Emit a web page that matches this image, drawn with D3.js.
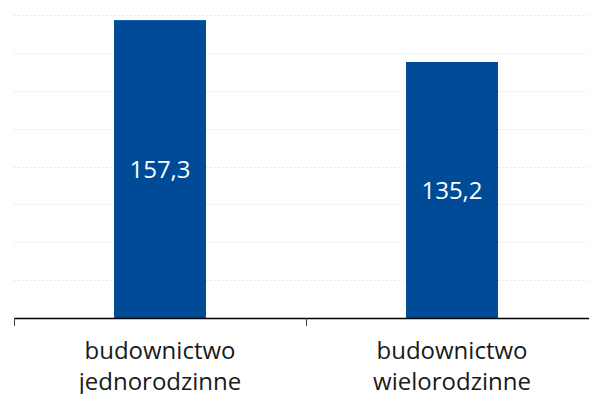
<!DOCTYPE html>
<html>
<head>
<meta charset="utf-8">
<script src="https://cdn.jsdelivr.net/npm/d3@7"></script>
<style>
  html, body { margin: 0; padding: 0; background: #ffffff; }
  svg { display: block; }
</style>
</head>
<body>
<svg id="chart" width="589" height="394"></svg>
<script>
// Housing construction categories and their values
const categories = [["budownictwo", "jednorodzinne"], ["budownictwo", "wielorodzinne"]];
const categoryKeys = ["jednorodzinne", "wielorodzinne"];
const values = [157.3, 135.2];
const valueLabels = ["157,3", "135,2"];
const gridTicks = [20, 40, 60, 80, 100, 120, 140, 160];

const svg = d3.select("#chart");
const plotLeft = 14, plotRight = 598, plotTop = 15, plotBottom = 318;
const font = "'Open Sans', sans-serif";

const x = d3.scaleBand()
  .domain(categoryKeys)
  .range([plotLeft, plotRight])
  .paddingInner(0.685)
  .paddingOuter(0.3425);

const y = d3.scaleLinear().domain([0, 160]).range([plotBottom, plotTop]);

// faint dotted gridlines
svg.append("g")
  .selectAll("line")
  .data(gridTicks)
  .join("line")
  .attr("x1", plotLeft)
  .attr("x2", 589)
  .attr("y1", d => Math.round(y(d)) + 0.5)
  .attr("y2", d => Math.round(y(d)) + 0.5)
  .attr("stroke", "#ebebeb")
  .attr("stroke-width", 1)
  .attr("stroke-dasharray", "2,2");

// bars
svg.append("g")
  .selectAll("rect")
  .data(values)
  .join("rect")
  .attr("x", (d, i) => x(categoryKeys[i]))
  .attr("y", d => y(d))
  .attr("width", x.bandwidth())
  .attr("height", d => y(0) - y(d))
  .attr("fill", "#004b98");

// value labels centred inside the bars
svg.append("g")
  .selectAll("text")
  .data(values)
  .join("text")
  .attr("x", (d, i) => x(categoryKeys[i]) + x.bandwidth() / 2)
  .attr("y", d => (y(d) + y(0)) / 2)
  .attr("dy", "0.36em")
  .attr("text-anchor", "middle")
  .attr("fill", "#ffffff")
  .style("font-family", font)
  .style("font-size", "24px")
  .text((d, i) => valueLabels[i]);

// category axis: baseline plus ticks at the band boundaries
const boundaries = [plotLeft, plotLeft + x.step(), plotRight];
const axis = svg.append("g");
axis.append("line")
  .attr("x1", plotLeft).attr("x2", 589)
  .attr("y1", plotBottom + 0.5).attr("y2", plotBottom + 0.5)
  .attr("stroke", "#000000").attr("stroke-width", 1.5);
axis.selectAll("line.tick")
  .data(boundaries)
  .join("line")
  .attr("class", "tick")
  .attr("x1", d => Math.round(d) + 0.5)
  .attr("x2", d => Math.round(d) + 0.5)
  .attr("y1", plotBottom)
  .attr("y2", plotBottom + 8)
  .attr("stroke", "#404040").attr("stroke-width", 1);

// two-line category labels
const labels = svg.append("g")
  .selectAll("text")
  .data(categories)
  .join("text")
  .attr("x", (d, i) => x(categoryKeys[i]) + x.bandwidth() / 2)
  .attr("y", 359)
  .attr("text-anchor", "middle")
  .attr("fill", "#1a1a1a")
  .style("font-family", font)
  .style("font-size", "24px");
labels.selectAll("tspan")
  .data(d => d)
  .join("tspan")
  .attr("x", function () { return d3.select(this.parentNode).attr("x"); })
  .attr("dy", (d, j) => j === 0 ? 0 : 31)
  .text(d => d);
</script>
</body>
</html>
